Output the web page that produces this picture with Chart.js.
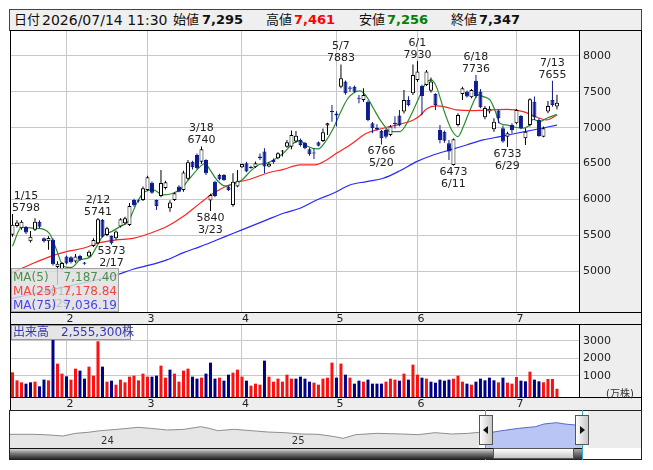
<!DOCTYPE html>
<html lang="ja">
<head>
<meta charset="UTF-8">
<title>株価チャート 日足</title>
<script src="https://cdn.jsdelivr.net/npm/chart.js"></script>
<style>
  body { margin: 0; width: 653px; height: 470px; position: relative; overflow: hidden; background: #fff;
         font-family: 'DejaVu Sans', 'Noto Sans CJK JP', sans-serif; color: #111; }
  .box { position: absolute; box-sizing: border-box; }
  .ln { position: absolute; background: #000; z-index: 5; }
  canvas { position: absolute; z-index: 2; }
  .hd { position: absolute; top: 9px; height: 22px; line-height: 22px; white-space: nowrap; z-index: 3; }
  .leg { position: absolute; left: 11px; top: 268px; width: 108px; height: 44px; box-sizing: border-box;
         background: rgba(222,222,222,0.82); border: 1px solid #a0a0a0; z-index: 6; font-size: 12px; }
  .leg div { position: absolute; left: 1px; right: 1px; height: 14px; line-height: 14px; }
  .leg span.v { position: absolute; right: 0; }
</style>
</head>
<body>

<!-- frame panels -->
<div class="box" style="left:9px;top:9px;width:633px;height:22px;background:#efefef;border:1px solid #444;"></div>
<div class="box" style="left:579px;top:30px;width:63px;height:282px;background:#eeeeee;"></div>
<div class="box" style="left:10px;top:312px;width:632px;height:13px;background:#eeeeee;"></div>
<div class="box" style="left:579px;top:325px;width:63px;height:72px;background:#eeeeee;"></div>
<div class="box" style="left:10px;top:397px;width:632px;height:13px;background:#eeeeee;"></div>
<div class="box" style="left:588px;top:411px;width:53px;height:37px;background:#ececec;"></div>

<div id="header"></div>

<canvas id="main" width="653" height="293" style="left:0;top:31px;width:653px;height:293px;"></canvas>
<canvas id="vol" width="653" height="85" style="left:0;top:325px;width:653px;height:85px;"></canvas>
<canvas id="nav" width="653" height="37" style="left:0;top:411px;width:653px;height:37px;"></canvas>

<!-- frame lines -->
<div class="ln" style="left:10px;top:30px;width:632px;height:1px;"></div>
<div class="ln" style="left:10px;top:30px;width:1px;height:380px;"></div>
<div class="ln" style="left:641px;top:30px;width:1px;height:380px;"></div>
<div class="ln" style="left:579px;top:30px;width:1px;height:282px;"></div>
<div class="ln" style="left:579px;top:325px;width:1px;height:72px;"></div>
<div class="ln" style="left:10px;top:312px;width:632px;height:1px;"></div>
<div class="ln" style="left:10px;top:324px;width:632px;height:1px;"></div>
<div class="ln" style="left:10px;top:397px;width:632px;height:1px;"></div>
<div class="box" style="left:9px;top:410px;width:633px;height:50px;border:1px solid #222;z-index:5;"></div>

<!-- legends -->
<div class="leg">
  <div style="top:1px;color:#4e8e4e">MA(5)<span class="v" id="v5"></span></div>
  <div style="top:15px;color:#ee4646">MA(25)<span class="v" id="v25"></span></div>
  <div style="top:29px;color:#4646ee">MA(75)<span class="v" id="v75"></span></div>
</div>
<div class="box" id="volLabel" style="left:11px;top:325px;width:120px;height:15px;background:rgba(226,226,226,0.9);border:1px solid #999;z-index:6;font-size:12px;line-height:13px;color:#3636b4;padding-left:1px;white-space:nowrap;"></div>
<div class="box" style="left:606px;top:385px;font-size:10px;color:#333;z-index:6;white-space:nowrap;">(万株)</div>

<!-- navigator widgets -->
<div class="box" style="left:485px;top:410px;width:1px;height:50px;background:#38a8dc;z-index:6;"></div>
<div class="box" style="left:582px;top:410px;width:1px;height:50px;background:#38a8dc;z-index:6;"></div>
<div class="box" style="left:479px;top:415px;width:14px;height:30px;border:1px solid #555;background:linear-gradient(to right,#fdfdfd,#c8c8c8);z-index:7;">
  <div style="position:absolute;left:3px;top:10px;width:0;height:0;border-top:4px solid transparent;border-bottom:4px solid transparent;border-right:5px solid #111;"></div>
</div>
<div class="box" style="left:575px;top:415px;width:14px;height:30px;border:1px solid #555;background:linear-gradient(to right,#fdfdfd,#c8c8c8);z-index:7;">
  <div style="position:absolute;left:4px;top:10px;width:0;height:0;border-top:4px solid transparent;border-bottom:4px solid transparent;border-left:5px solid #111;"></div>
</div>
<div class="box" style="left:10px;top:448px;width:564px;height:11px;border-top:1px solid #111;background:linear-gradient(to bottom,#d4d4d4 0%,#7a7a7a 45%,#262626 100%);z-index:6;"></div>
<div class="box" style="left:493px;top:448px;width:81px;height:11px;border:1px solid #555;background:linear-gradient(to bottom,#ffffff,#c6c6c6);z-index:7;"></div>
<div class="box" style="left:574px;top:448px;width:8px;height:11px;border-top:1px solid #111;background:linear-gradient(to bottom,#aaaaaa,#333333);z-index:7;"></div>

<script>
// ---- data ----
const dates = [
  '1/15','1/16','1/19','1/20','1/21','1/22','1/23','1/26','1/27','1/28','1/29','1/30',
  '2/2','2/3','2/4','2/5','2/6','2/9','2/10','2/12','2/13','2/16','2/17','2/18','2/19','2/20','2/24','2/25','2/26','2/27',
  '3/2','3/3','3/4','3/5','3/6','3/9','3/10','3/11','3/12','3/13','3/16','3/17','3/18','3/19','3/23','3/24','3/25','3/26','3/27','3/30','3/31',
  '4/1','4/2','4/3','4/6','4/7','4/8','4/9','4/10','4/13','4/14','4/15','4/16','4/17','4/20','4/21','4/22','4/23','4/24','4/27','4/28','4/30',
  '5/1','5/7','5/8','5/11','5/12','5/13','5/14','5/15','5/18','5/19','5/20','5/21','5/22','5/25','5/26','5/27','5/28','5/29',
  '6/1','6/2','6/3','6/4','6/5','6/8','6/9','6/10','6/11','6/12','6/15','6/16','6/17','6/18','6/19','6/22','6/23','6/24','6/25','6/26','6/29','6/30',
  '7/1','7/2','7/3','7/6','7/7','7/8','7/9','7/10','7/13','7/14'
];
const opens = [
  5510,5630,5600,5620,5420,5580,5690,5460,5420,5440,5060,5030,
  5205,5196,5135,5214,5121,5205,5353,5390,5716,5507,5493,5460,5623,5670,5646,5994,5990,5994,
  6134,6235,5994,6050,6160,5878,5994,6180,6134,6290,6528,6620,6528,6551,5985,6249,6342,6342,6180,5925,6180,
  6449,6505,6450,6449,6598,6668,6459,6551,6575,6668,6737,6737,6807,6830,6790,6700,6650,6797,6816,7030,7234,
  7200,7573,7643,7560,7573,7415,7387,7364,7062,7000,6955,6970,6900,7070,7170,7225,7387,7480,
  7666,7582,7596,7517,7470,6969,6946,6784,6480,7039,7471,7503,7424,7656,7503,7146,7225,6979,7239,6993,6876,7039,
  7062,7164,6853,7039,7364,7109,6876,7225,7387,7295
];
const highs = [
  5798,5710,5710,5630,5560,5740,5710,5470,5490,5460,5140,5130,
  5220,5210,5240,5230,5130,5290,5460,5741,5730,5620,5500,5570,5740,5760,5950,6010,6000,6180,
  6330,6250,6000,6412,6260,5990,6100,6200,6400,6550,6540,6640,6740,6560,6080,6260,6360,6355,6200,6366,6412,
  6500,6528,6470,6530,6640,6714,6520,6570,6660,6690,6830,6960,6955,6850,6800,6720,6714,6810,6990,7070,7318,
  7230,7883,7660,7580,7590,7457,7550,7380,7080,7050,6970,6990,7040,7160,7248,7526,7440,7880,
  7930,7600,7805,7700,7480,7039,6960,6830,6850,7201,7573,7520,7540,7736,7540,7303,7300,7132,7248,7030,6946,7062,
  7262,7178,6993,7410,7434,7132,7016,7373,7655,7461
];
const lows = [
  5480,5610,5580,5520,5400,5560,5600,5400,5300,5080,4812,5010,
  5100,5110,5120,5150,5090,5195,5340,5380,5470,5490,5373,5440,5610,5650,5630,5900,5960,5980,
  6120,6080,5855,6030,6140,5831,5980,6100,6110,6270,6420,6420,6500,6340,5840,6030,6270,6260,6120,5900,6170,
  6440,6380,6430,6440,6550,6366,6450,6500,6560,6600,6720,6700,6790,6740,6700,6610,6565,6740,6800,6900,7085,
  7016,7550,7460,7500,7490,7340,7360,7090,6923,6960,6766,6850,6880,6990,7020,7200,7300,7457,
  7640,7178,7580,7490,7248,6783,6790,6551,6473,7016,7387,7420,7410,7410,7270,7118,7200,6946,7062,6790,6733,6920,
  7048,6980,6760,7016,7109,6876,6866,7201,7294,7256
];
const closes = [
  5650,5680,5690,5540,5480,5690,5620,5420,5465,5100,5105,5115,
  5110,5125,5205,5160,5105,5274,5437,5725,5483,5600,5390,5553,5725,5739,5910,5925,5975,6157,
  6309,6096,5911,6230,6240,5957,6087,6110,6375,6520,6450,6435,6700,6366,6063,6050,6282,6270,6133,6249,6260,
  6495,6389,6440,6505,6575,6459,6500,6519,6644,6673,6797,6900,6890,6760,6714,6630,6640,6751,6937,7062,7220,
  7170,7689,7480,7545,7503,7405,7457,7109,6993,6975,6853,6876,7016,7050,7030,7387,7318,7735,
  7782,7443,7782,7643,7317,6830,6820,6668,6839,7178,7550,7434,7526,7443,7285,7275,7265,7085,7132,6807,6923,6969,
  7248,6993,6946,7396,7146,6886,6993,7303,7318,7347
];
// volume in 万株
const volumes = [
  1195,737,623,547,623,661,395,776,737,3062,1690,1119,
  966,776,1404,1290,833,1519,1004,2966,1519,661,718,490,776,623,947,1004,738,1119,
  947,947,1004,1576,890,1347,1119,661,1290,1404,947,833,890,1119,1747,833,890,718,1061,1176,1347,
  947,718,433,547,490,1861,947,661,833,661,1061,833,833,947,833,661,604,490,833,890,1747,
  890,1690,1061,890,547,718,661,776,547,547,547,661,833,776,718,1119,776,1633,
  1061,890,833,661,604,776,718,776,833,1004,661,547,490,661,833,738,890,738,623,890,604,547,
  928,718,680,1233,776,680,623,814,814,255.53
];
// moving averages: [day index, value]
const ma5 = [
  [0,5350],[2,5614],[5,5600],[7,5585],[8.3,5520],[9.8,5298],[10.9,5112],[12,5056],[13.2,5056],[15,5159],
  [17.2,5196],[18.7,5344],[20.1,5493],[22,5553],[23.9,5623],[25.7,5692],[27.6,5948],[29,6087],[31.3,6134],
  [33.5,6064],[35.7,6087],[37.6,6157],[39.4,6296],[41.7,6459],[42.8,6505],[43.9,6412],[45.4,6273],[47.2,6189],
  [49.1,6217],[51,6273],[52.8,6389],[54.6,6482],[56.5,6505],[58.3,6561],[60.2,6644],[62.4,6784],[63.9,6821],
  [65.4,6746],[67.9,6705],[69.8,6830],[71.3,6993],[72.8,7201],[74.3,7387],[75.7,7480],[77.2,7513],[78.7,7434],
  [80.2,7271],[81.7,7109],[82.8,7016],[83.9,6946],[86.1,6946],[87.2,7016],[89.1,7248],[90.6,7457],[91.8,7619],
  [93.1,7666],[94.2,7573],[96.1,7201],[97.6,6969],[99,6876],[100.2,7016],[101.7,7248],[103.5,7457],[104.6,7434],
  [106.1,7387],[107.2,7248],[108.3,7062],[109.8,7039],[111.7,7007],[113.5,6993],[114.6,7020],[115.7,7118],
  [117.2,7085],[118.7,7132],[121,7187.40]
];
const ma25 = [
  [-0.3,4973],[4.6,5112],[8.3,5205],[12,5274],[15.7,5321],[19.4,5400],[23.1,5437],[26.8,5460],[30.6,5530],
  [34.3,5623],[37.9,5762],[41.7,5950],[44.6,6087],[49.1,6226],[52.8,6282],[56.5,6366],[60.2,6421],[63.9,6482],
  [67.2,6482],[69.8,6551],[72,6644],[75,6760],[78.7,6923],[82.4,6993],[86.1,7050],[89.1,7109],[90.6,7170],
  [92,7262],[94.2,7304],[96.5,7285],[98.7,7248],[102.4,7239],[106.1,7248],[109.8,7257],[113.5,7225],
  [116.5,7146],[118.7,7109],[121,7178.84]
];
const ma75 = [
  [-0.3,4620],[10,4760],[20,4900],[23.1,4950],[26.8,5029],[30.6,5089],[34.3,5159],[38,5260],[41.7,5344],
  [45.4,5437],[49.1,5530],[52.8,5623],[56.5,5716],[60.2,5809],[63.9,5878],[67.6,5994],[71.3,6087],[75,6203],
  [78.7,6250],[82.4,6296],[86.1,6400],[89.8,6528],[93.5,6621],[97.2,6691],[100.9,6760],[104.6,6830],
  [108.3,6876],[112,6923],[115.7,6969],[121,7036.19]
];
// marked highs / lows
const markIdx  = [0, 19, 42, 73, 90, 103, 120, 10, 22, 44, 82, 98, 110];
const markKind = ['H','H','H','H','H','H','H','L','L','L','L','L','L'];
// navigator (long history, in years)
const navYears  = [2023.528,2023.651,2023.739,2023.805,2023.871,2023.937,2024.002,2024.090,2024.200,2024.265,
  2024.353,2024.441,2024.528,2024.572,2024.616,2024.704,2024.791,2024.879,2024.967,2025.011,2025.055,2025.143,
  2025.230,2025.274,2025.340,2025.450,2025.581,2025.669,2025.756,2025.844,2025.932,2025.986];
const navValues = [5353,5353,5220,5030,5537,5727,6043,6297,6677,6487,6170,6297,6803,6487,6043,6297,6043,5790,
  5663,5537,5410,5353,4903,4587,5283,5537,5410,5283,5663,5410,5537,5727];
const winYears  = [2026.020,2026.107,2026.195,2026.283,2026.327,2026.393,2026.437,2026.491,2026.526];
const winValues = [5537,6043,6487,6803,7310,7563,7310,7120,7250];
const yearTicks = [2024, 2025];
const yearLabels = ['24', '25'];
const priceTicks = [5000, 5500, 6000, 6500, 7000, 7500, 8000];
const volTicks = [1000, 2000, 3000];
const stamp = '2026/07/14 11:30';

// ---- helpers ----
const FONT = "'DejaVu Sans', 'Noto Sans CJK JP', sans-serif";
Chart.defaults.font.family = FONT;
const NAVY = '#0b1a8c';
const last = dates.length - 1;
const fmt = v => v.toLocaleString('en-US');

const monthStarts = [];
dates.forEach((d, i) => {
  if (i > 0 && d.split('/')[0] !== dates[i - 1].split('/')[0]) monthStarts.push(i);
});
const monthName = {};
monthStarts.forEach(i => { monthName[i] = dates[i].split('/')[0]; });

const isUp = i => closes[i] >= opens[i];
const volUp = i => i === 0 ? closes[i] >= opens[i] : closes[i] > closes[i - 1];

// header
(function () {
  const h = document.getElementById('header');
  const items = [
    [14, '日付', 13, 'normal', '#111'], [42, stamp, 14, 'normal', '#111'],
    [173, '始値', 13, 'normal', '#111'], [202, fmt(opens[last]), 13, 'bold', '#111'],
    [266, '高値', 13, 'normal', '#111'], [294, fmt(highs[last]), 13, 'bold', '#ff0000'],
    [359, '安値', 13, 'normal', '#111'], [387, fmt(lows[last]), 13, 'bold', '#008000'],
    [451, '終値', 13, 'normal', '#111'], [479, fmt(closes[last]), 13, 'bold', '#111']
  ];
  items.forEach(([x, t, s, w, c]) => {
    const sp = document.createElement('span');
    sp.className = 'hd';
    sp.style.cssText = `left:${x}px;font-size:${s}px;font-weight:${w};color:${c}`;
    sp.textContent = t;
    h.appendChild(sp);
  });
  document.getElementById('v5').textContent = ma5[ma5.length - 1][1].toFixed(2).replace(/\B(?=(\d{3})+(?!\d))/, ',');
  document.getElementById('v25').textContent = ma25[ma25.length - 1][1].toFixed(2).replace(/\B(?=(\d{3})+(?!\d))/, ',');
  document.getElementById('v75').textContent = ma75[ma75.length - 1][1].toFixed(2).replace(/\B(?=(\d{3})+(?!\d))/, ',');
  document.getElementById('volLabel').textContent = '出来高　' + fmt(Math.round(volumes[last] * 10000)) + '株';
})();

const xMin = -0.33, xMax = 125.9;
function xAxis(h) {
  return {
    type: 'linear', min: xMin, max: xMax, offset: false,
    afterBuildTicks: s => { s.ticks = monthStarts.map(v => ({ value: v })); },
    afterFit: s => { s.height = h; s.paddingLeft = 0; s.paddingRight = 0; },
    grid: { color: '#c8c8c8', drawTicks: false, offset: false },
    border: { display: false },
    ticks: { autoSkip: false, maxRotation: 0, align: 'start', padding: 1, color: '#222',
             font: { size: 11 }, callback: v => monthName[v] || '' }
  };
}
function yAxis(min, max, ticks) {
  return {
    type: 'linear', position: 'right', min: min, max: max,
    afterBuildTicks: s => { s.ticks = ticks.map(v => ({ value: v })); },
    afterFit: s => { s.width = 62; s.paddingTop = 0; s.paddingBottom = 0; },
    grid: { color: '#c8c8c8', drawTicks: false },
    border: { display: false },
    ticks: { padding: 4, color: '#222', font: { size: 11 }, callback: v => String(v) }
  };
}
const common = {
  responsive: false, animation: false, events: [],
  plugins: { legend: { display: false }, tooltip: { enabled: false } }
};

// high / low labels
const marks = {
  id: 'marks',
  afterDatasetsDraw(chart) {
    const { ctx, chartArea, scales: { x, y } } = chart;
    ctx.save();
    ctx.font = '11px ' + FONT;
    ctx.fillStyle = '#222';
    ctx.textAlign = 'center';
    ctx.textBaseline = 'middle';
    markIdx.forEach((i, k) => {
      const hi = markKind[k] === 'H';
      const v = hi ? highs[i] : lows[i];
      const t1 = hi ? dates[i] : String(v);
      const t2 = hi ? String(v) : dates[i];
      const w = Math.max(ctx.measureText(t1).width, ctx.measureText(t2).width);
      let cx = x.getPixelForValue(i);
      cx = Math.min(Math.max(cx, chartArea.left + w / 2 + 1), chartArea.right - w / 2 - 1);
      const py = y.getPixelForValue(v);
      if (hi) { ctx.fillText(t1, cx, py - 18); ctx.fillText(t2, cx, py - 6); }
      else    { ctx.fillText(t1, cx, py + 7);  ctx.fillText(t2, cx, py + 19); }
    });
    ctx.restore();
  }
};

const maLine = (pts, color, order) => ({
  type: 'line', data: pts.map(([i, v]) => ({ x: i, y: v })),
  borderColor: color, borderWidth: 1.2, pointRadius: 0,
  cubicInterpolationMode: 'monotone', order: order
});

// ---- price chart ----
new Chart(document.getElementById('main'), {
  type: 'bar',
  data: {
    datasets: [
      {
        data: dates.map((d, i) => ({ x: i, y: [opens[i], closes[i]] })),
        backgroundColor: dates.map((d, i) => isUp(i) ? '#ffffff' : NAVY),
        borderColor: dates.map((d, i) => isUp(i) ? '#000000' : NAVY),
        borderWidth: 1, borderSkipped: false, barThickness: 4, minBarLength: 1,
        grouped: false, inflateAmount: 0, order: 1
      },
      {
        data: dates.map((d, i) => ({ x: i, y: [lows[i], highs[i]] })),
        backgroundColor: dates.map((d, i) => isUp(i) ? '#000000' : NAVY),
        borderWidth: 0, barThickness: 1, grouped: false, inflateAmount: 0, order: 2
      },
      maLine(ma5, '#2c8a2c', 3),
      maLine(ma25, '#ff2424', 4),
      maLine(ma75, '#2828ff', 5)
    ]
  },
  options: Object.assign({}, common, {
    layout: { padding: { left: 11, right: 12, top: 0, bottom: 0 } },
    scales: { x: xAxis(12), y: yAxis(4433, 8348, priceTicks) }
  }),
  plugins: [marks]
});

// ---- volume chart ----
const VOL_BASE = -215;
new Chart(document.getElementById('vol'), {
  type: 'bar',
  data: {
    datasets: [{
      data: dates.map((d, i) => ({ x: i, y: [VOL_BASE, volumes[i]] })),
      backgroundColor: dates.map((d, i) => volUp(i) ? '#ff1010' : '#00008b'),
      borderWidth: 0, barThickness: 3, grouped: false, inflateAmount: 0
    }]
  },
  options: Object.assign({}, common, {
    layout: { padding: { left: 11, right: 12, top: 0, bottom: 0 } },
    scales: { x: xAxis(13), y: yAxis(VOL_BASE, 3897, volTicks) }
  })
});

// ---- navigator ----
const yearText = {
  id: 'yearText',
  afterDatasetsDraw(chart) {
    const { ctx, chartArea, scales: { x } } = chart;
    ctx.save();
    ctx.font = '10px ' + FONT;
    ctx.fillStyle = '#333';
    ctx.textBaseline = 'middle';
    yearTicks.forEach((t, k) => ctx.fillText(yearLabels[k], x.getPixelForValue(t) + 1, chartArea.bottom - 7));
    ctx.restore();
  }
};
new Chart(document.getElementById('nav'), {
  type: 'line',
  data: {
    datasets: [
      { data: navYears.map((t, k) => ({ x: t, y: navValues[k] })), borderColor: '#8e8e8e',
        backgroundColor: '#e6e6e6', fill: 'start', borderWidth: 1, pointRadius: 0 },
      { data: winYears.map((t, k) => ({ x: t, y: winValues[k] })), borderColor: '#5a68c8',
        backgroundColor: '#b9c5f4', fill: 'start', borderWidth: 1, pointRadius: 0 }
    ]
  },
  options: Object.assign({}, common, {
    layout: { padding: { left: 10, right: 11, top: 0, bottom: 0 } },
    scales: {
      x: { type: 'linear', min: 2023.528, max: 2026.841, display: false },
      y: { min: 2750, max: 9780, display: false }
    }
  }),
  plugins: [yearText]
});
</script>
</body>
</html>
